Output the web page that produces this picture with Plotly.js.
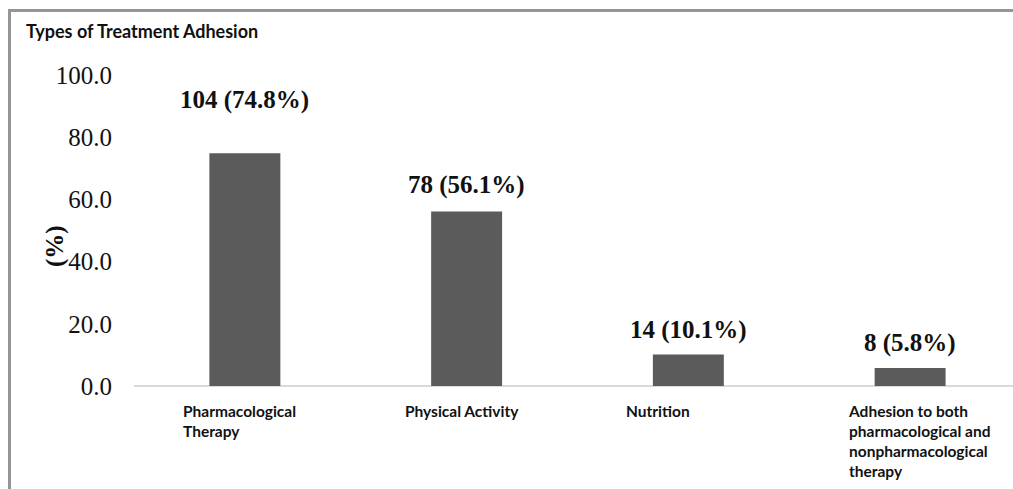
<!DOCTYPE html>
<html>
<head>
<meta charset="utf-8">
<script src="https://cdn.plot.ly/plotly-3.0.1.min.js"></script>
<style>
  html, body { margin: 0; padding: 0; background: #fff; }
  #wrap { position: relative; width: 1013px; height: 489px; overflow: hidden; }
  #chart { position: absolute; left: 0; top: 0; width: 1013px; height: 489px; }
  #frame { position: absolute; left: 8px; top: 9px; width: 1100px; height: 600px;
           border-top: 3px solid #959595; border-left: 3px solid #959595; pointer-events: none; }
</style>
</head>
<body>
<div id="wrap">
  <div id="chart"></div>
  <div id="frame"></div>
</div>
<script>
const categories = ["Pharmacological<br>Therapy", "Physical Activity", "Nutrition",
  "Adhesion to both<br>pharmacological and<br>nonpharmacological<br>therapy"];
const percents = [74.8, 56.1, 10.1, 5.8];
const counts = [104, 78, 14, 8];
const labelShift = [37, 11, 9, 9];
const yTicks = [0, 20, 40, 60, 80, 100];

const xIdx = categories.map((c, i) => i);

const trace = {
  type: 'bar',
  x: xIdx,
  y: percents,
  width: 0.32,
  marker: { color: '#5b5b5b' },
  hoverinfo: 'none'
};

const serif = 'Liberation Serif, Times New Roman, serif';
const sans = 'Lato, Open Sans, sans-serif';

const annotations = [];
percents.forEach((p, i) => {
  annotations.push({
    x: i, y: p, xref: 'x', yref: 'y',
    text: '<b>' + counts[i] + ' (' + p.toFixed(1) + '%)</b>',
    showarrow: false, yanchor: 'bottom', yshift: labelShift[i],
    font: { family: serif, size: 25, color: '#111' }
  });
  annotations.push({
    x: i, y: 0, xref: 'x', yref: 'paper',
    text: '<b>' + categories[i] + '</b>',
    showarrow: false, xanchor: 'left', yanchor: 'top', align: 'left',
    xshift: -64, yshift: -14,
    font: { family: sans, size: 15.5, color: '#111' }
  });
});
annotations.push({
  x: 0, y: 0.45, xref: 'paper', yref: 'paper',
  xanchor: 'center', yanchor: 'middle', xshift: -79,
  text: '<b>(%)</b>', textangle: -90, showarrow: false,
  font: { family: serif, size: 25, color: '#111' }
});

const layout = {
  width: 1013, height: 489,
  margin: { l: 134, r: 0, t: 75, b: 103, pad: 0 },
  paper_bgcolor: '#ffffff', plot_bgcolor: '#ffffff',
  showlegend: false,
  title: {
    text: '<b>Types of Treatment Adhesion</b>',
    xref: 'container', yref: 'container',
    x: 26 / 1013, xanchor: 'left',
    y: 1 - 32 / 489, yanchor: 'middle',
    font: { family: sans, size: 18, color: '#111' }
  },
  xaxis: {
    range: [-0.5, 3.464],
    showticklabels: false, ticks: '',
    showgrid: false, zeroline: false,
    showline: false, fixedrange: true
  },
  yaxis: {
    range: [0, 100],
    tickvals: yTicks,
    ticktext: yTicks.map(v => v.toFixed(1)),
    ticks: '', showgrid: false, zeroline: true,
    zerolinecolor: '#d9d9d9', zerolinewidth: 2,
    showline: false, ticklabelstandoff: 21,
    tickfont: { family: serif, size: 25, color: '#111' },
    fixedrange: true
  },
  annotations: annotations
};

Plotly.newPlot('chart', [trace], layout, { displayModeBar: false, staticPlot: true });
</script>
</body>
</html>
